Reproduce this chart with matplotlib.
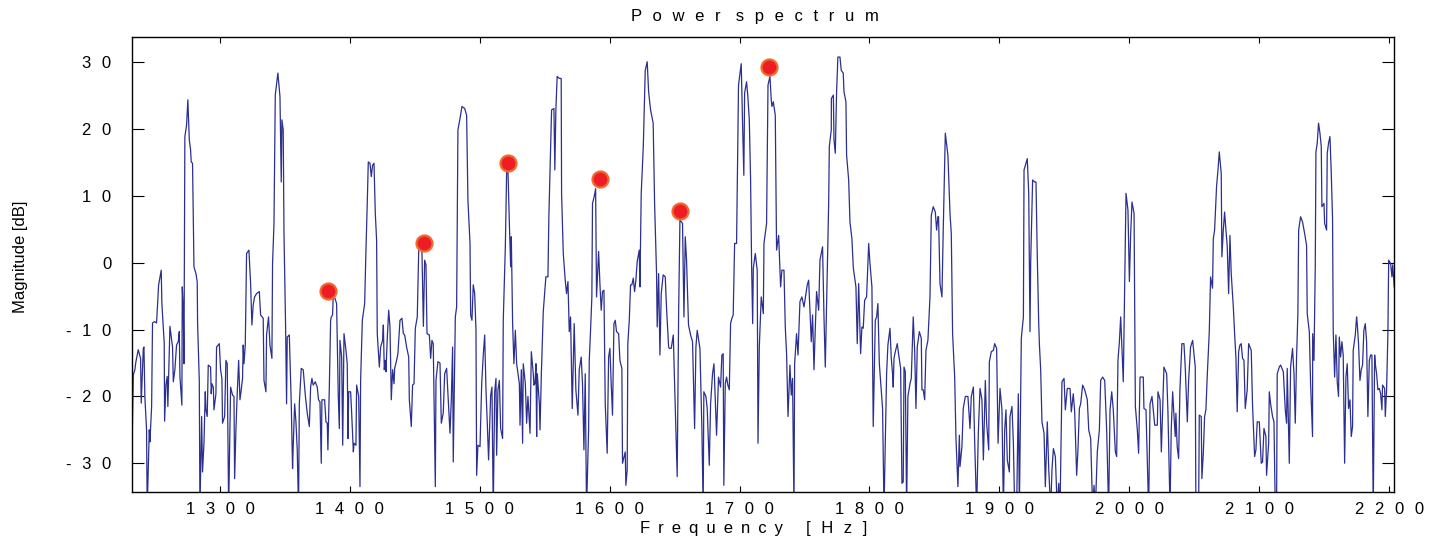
import numpy as np
import matplotlib
matplotlib.use("Agg")
import matplotlib.pyplot as plt

plt.rcParams['font.family'] = ['Liberation Sans', 'DejaVu Sans']

# ---- spectrum trace (Hz, dB); -37 = below the axis ----
freq_1 = [1232.5,1233.3,1234.5,1235.3,1237.1,1238.9,1239.4,1241.0,1241.5,1242.2,1243.5,1244.0,1245.6,1246.1,1247.4,
          1248.1,1249.7,1251.2,1252.8,1254.8,1255.3,1257.1,1257.4,1258.4,1259.4,1259.9,1261.5,1263.5,1264.1,1265.3,
          1266.6,1267.9,1268.7,1269.2,1270.7,1271.0,1271.8,1272.3,1273.0,1274.3,1275.3,1276.4,1277.4,1277.9,1278.9,
          1280.0,1281.5,1282.5,1282.8,1284.1,1284.6,1285.9,1286.6,1287.7,1288.7,1289.2,1290.2,1291.0,1292.8,1293.3,
          1293.8,1294.9,1295.4,1296.9,1297.4,1299.5,1300.5,1301.5,1302.0,1303.6,1304.6,1305.6,1306.7,1308.2,1309.7,
          1310.8,1311.3,1312.3,1313.3,1314.4,1315.4,1316.4,1317.4,1317.9,1318.5,1319.5,1320.0,1320.5,1322.3,1323.6,
          1324.6,1325.6,1326.7,1328.2,1330.3,1331.3,1333.3,1333.9,1335.4,1335.9,1337.4,1338.5,1340.0,1340.5,1341.6,
          1342.6,1343.6,1344.6,1346.2,1347.2,1347.7,1348.7,1349.3,1350.5,1351.3,1351.8,1353.4,1353.9,1354.9,1355.9,
          1356.4,1357.5,1358.5,1359.5,1360.5,1361.1,1362.6,1364.1,1365.7,1367.2,1368.8,1369.8,1370.8,1371.8,1373.4,
          1374.9,1375.9,1377.0,1378.0,1378.5,1380.6,1381.6,1382.6,1383.1,1384.2,1385.2,1385.7,1386.7,1387.2]
db_1 = [-25.8,-16.8,-16.0,-14.8,-13.0,-14.3,-21.0,-12.8,-12.6,-20.0,-25.0,-37,-25.0,-26.8,-21.5,
        -9.0,-8.8,-9.0,-3.3,-1.1,-6.1,-12.0,-23.7,-18.3,-17.0,-21.5,-9.5,-12.6,-17.8,-16.0,
        -12.3,-11.8,-10.3,-17.0,-21.3,-3.6,-7.1,-15.1,18.9,20.6,24.4,18.4,16.9,15.1,14.9,
        -0.6,-1.6,-2.8,-9.1,-17.6,-37,-23.0,-31.3,-27.0,-19.3,-22.0,-23.0,-15.3,-15.6,-19.6,
        -18.1,-18.6,-22.0,-19.6,-12.6,-12.1,-16.0,-17.3,-24.0,-23.0,-14.6,-15.1,-37,-18.6,-19.8,
        -20.0,-32.3,-25.0,-19.6,-14.6,-20.5,-19.0,-17.3,-12.3,-15.1,-12.3,-5.8,1.4,1.9,-3.1,
        -9.3,-6.3,-5.1,-4.6,-4.3,-7.8,-8.3,-17.6,-19.3,-10.8,-8.1,-12.3,-14.3,-0.1,5.9,
        25.1,26.8,28.4,24.9,12.1,21.4,19.9,4.4,-9.1,-21.1,-11.1,-10.8,-14.3,-21.1,-30.8,
        -27.5,-21.1,-23.8,-28.0,-37,-21.1,-15.8,-16.0,-19.8,-22.5,-24.5,-18.6,-17.3,-18.3,-17.8,
        -18.6,-20.5,-20.8,-30.0,-20.5,-20.5,-23.8,-24.0,-28.0,-18.6,-8.6,-8.1,-7.8,-5.1]

freq_2 = [1388.5,1389.8,1391.1,1391.9,1392.4,1393.7,1394.5,1395.5,1397.0,1398.0,1398.6,1399.1,1400.6,1401.4,1402.7,
          1403.2,1404.7,1405.2,1406.8,1407.8,1408.3,1409.6,1411.4,1412.4,1413.4,1414.2,1415.5,1416.5,1417.5,1418.6,
          1419.6,1420.6,1421.1,1422.7,1423.7,1425.2,1425.8,1426.5,1427.3,1427.8,1428.8,1429.9,1430.9,1431.9,1432.9,
          1434.0,1434.5,1436.0,1437.0,1438.6,1440.1,1441.2,1442.2,1443.7,1445.3,1445.8,1447.3,1448.3,1449.4,1450.4,
          1451.9,1453.0,1454.0,1455.5,1456.6,1457.6,1458.6,1459.4,1461.2,1462.2,1463.2,1464.2,1465.8,1466.3,1467.8,
          1469.4,1470.4,1471.9,1473.0,1474.5,1476.1,1477.1,1478.1,1479.1,1479.6,1481.2,1482.2,1483.2,1484.8,1486.3,
          1488.4,1489.9,1490.9,1492.5,1493.0,1494.0,1495.0,1496.1,1497.1,1497.6,1498.6,1500.2,1501.5,1502.7,1503.8,
          1504.8,1505.8,1506.8,1508.4,1509.4,1510.4,1511.5,1512.5,1513.0,1514.0,1515.1,1516.1,1517.6,1518.1,1519.7,
          1520.7,1521.7,1522.8,1523.8,1524.3,1525.3,1526.3,1527.4,1528.4,1530.5,1531.0,1532.0,1533.0,1533.5,1535.1,
          1536.1,1537.1,1538.7,1539.7,1541.2,1541.7,1542.5,1543.3,1543.8,1544.3,1545.9,1546.4,1547.4]
db_2 = [-5.3,-6.1,-20.0,-24.8,-11.6,-14.1,-27.3,-10.6,-13.1,-15.1,-26.3,-19.3,-19.3,-22.5,-28.3,
        -27.0,-27.3,-18.3,-20.0,-33.5,-17.6,-8.6,-6.1,1.9,8.9,15.1,14.9,12.9,14.6,14.9,
        7.4,3.4,-10.6,-15.6,-12.6,-11.6,-9.3,-16.0,-14.6,-16.3,-11.3,-7.1,-9.6,-20.5,-16.0,
        -18.1,-15.8,-14.6,-13.6,-8.6,-8.3,-10.6,-10.8,-12.6,-14.1,-20.5,-24.5,-18.3,-18.1,-9.8,
        -8.1,1.7,2.4,1.7,-9.5,0.4,-0.3,-10.6,-10.8,-14.3,-11.6,-12.1,-33.5,-17.6,-14.8,
        -15.0,-24.0,-22.5,-16.6,-15.8,-21.8,-25.5,-20.5,-12.6,-29.8,-8.1,-6.6,19.9,21.6,23.4,
        23.1,22.1,9.4,2.9,-7.8,-8.6,-3.3,-4.6,-10.1,-31.8,-27.3,-27.5,-18.1,-13.8,-10.8,
        -19.0,-24.0,-29.5,-19.8,-18.6,-37,-19.3,-17.3,-28.8,-19.0,-17.6,-24.8,-26.3,-8.6,2.4,
        13.6,13.9,5.9,-0.6,3.9,-9.1,-15.1,-10.1,-15.1,-18.1,-24.3,-16.0,-27.0,-15.1,-18.1,
        -24.0,-20.0,-25.5,-13.3,-16.6,-18.3,-18.1,-15.1,-26.0,-16.6,-21.1,-25.0,-16.8]

freq_3 = [1548.9,1550.1,1550.9,1552.5,1553.2,1555.3,1557.1,1557.8,1558.6,1559.6,1561.2,1562.7,1563.0,1564.3,1565.8,
          1566.8,1567.9,1568.9,1569.9,1571.2,1572.7,1574.0,1575.6,1576.6,1578.1,1579.1,1580.2,1581.2,1582.2,1583.8,
          1584.3,1585.3,1586.3,1586.8,1588.1,1589.2,1589.9,1591.5,1592.5,1593.5,1594.5,1595.6,1596.6,1598.1,1599.2,
          1600.2,1601.2,1602.2,1603.3,1604.3,1605.3,1606.9,1607.9,1609.4,1609.9,1612.0,1612.5,1613.5,1614.0,1615.1,
          1616.1,1617.1,1618.2,1619.2,1620.2,1621.2,1622.8,1623.3,1624.3,1625.9,1627.4,1628.9,1630.0,1631.5,1633.5,
          1634.6,1636.1,1636.6,1637.7,1638.7,1639.7,1641.2,1642.8,1643.8,1645.4,1645.9,1647.4,1649.0,1650.0,1652.0,
          1653.1,1654.1,1656.1,1657.2,1658.2,1659.2,1660.7,1662.3,1663.8,1665.4,1666.4,1667.4,1669.5,1671.0,1672.0,
          1672.5,1674.1,1675.1,1676.7,1677.7,1679.2,1680.3,1682.3,1683.8,1685.4,1686.4,1687.4,1687.9,1689.0,1690.0,
          1691.0,1692.1,1693.1,1694.1,1695.1,1696.2,1697.7,1699.2,1700.3,1701.3,1702.3,1703.3,1703.9,1705.4,1706.4,
          1707.5]
db_3 = [-7.3,-4.1,-2.1,-2.1,6.9,22.9,23.1,13.9,22.9,27.9,27.6,27.6,10.4,1.4,-2.6,
        -4.6,-2.8,-10.3,-8.1,-21.8,-9.1,-19.0,-22.8,-16.0,-14.1,-18.1,-28.0,-16.6,-37,-25.0,
        -14.6,-10.1,-5.1,8.9,9.9,11.1,-5.1,1.7,-3.1,-7.1,-4.3,-4.1,-21.1,-28.5,-14.1,
        -12.8,-18.1,-22.8,-9.1,-8.6,-10.3,-10.6,-14.6,-15.8,-30.0,-28.3,-33.3,-31.0,-12.1,-8.6,
        -3.3,-3.3,-2.3,-4.3,-2.6,0.2,1.9,-3.6,10.4,17.4,28.8,30.1,25.6,22.9,20.9,
        8.9,-1.6,-9.6,-1.6,-13.8,-4.6,-1.8,-2.1,-6.8,-12.6,-12.8,-12.8,-10.8,-18.1,-32.0,
        -7.6,6.4,5.9,-8.1,3.9,0.4,-9.3,-10.8,-11.8,-24.8,-12.6,-10.1,-12.8,-24.8,-37,
        -19.3,-20.0,-21.8,-30.3,-21.1,-16.6,-15.1,-25.8,-17.1,-18.6,-13.8,-13.6,-33.3,-18.1,-17.1,
        -18.3,-19.0,-9.1,-8.3,-7.8,2.9,2.9,26.6,28.3,29.8,20.9,13.1,25.4,27.1,24.9,
        21.4]

freq_4 = [1708.5,1709.3,1710.1,1710.6,1712.1,1713.6,1714.2,1715.2,1716.7,1718.3,1718.8,1720.8,1721.9,1723.4,1724.4,
          1724.9,1726.0,1727.5,1728.5,1730.1,1731.6,1732.6,1734.2,1735.2,1736.2,1737.3,1738.3,1738.8,1739.8,1740.8,
          1741.9,1742.4,1743.9,1745.0,1746.5,1748.0,1749.6,1751.1,1752.1,1753.2,1754.2,1755.2,1756.2,1757.3,1758.3,
          1759.3,1760.9,1761.9,1763.9,1765.0,1766.0,1767.5,1768.6,1769.1,1770.6,1770.7,1772.2,1772.7,1773.7,1774.7,
          1775.7,1777.3,1778.3,1779.8,1780.4,1781.9,1782.4,1784.0,1785.0,1786.5,1787.6,1789.6,1790.6,1791.7,1793.2,
          1794.2,1795.2,1796.3,1797.8,1799.4,1800.4,1801.9,1802.9,1804.5,1805.5,1806.5,1807.6,1809.1,1810.1,1811.2,
          1813.2,1814.2,1815.8,1816.8,1817.8,1818.3,1818.9,1819.9,1821.4,1822.4,1824.0,1825.0,1826.0,1826.6,1827.6,
          1828.6,1829.6,1831.2,1832.2,1833.7,1834.8,1835.8,1836.8,1838.4,1839.9,1840.4,1841.4,1842.5,1843.5,1845.0,
          1846.6,1847.6,1849.1,1850.7,1851.7,1852.7,1853.2,1854.3,1855.8,1856.8,1858.4,1860.4,1862.0,1863.0,1864.0,
          1865.6,1866.6,1868.1,1869.2,1869.7,1871.2,1872.2,1873.8,1875.8]
db_4 = [12.4,-0.6,-9.1,-0.8,1.4,-1.1,-27.0,-12.6,-5.1,-7.6,2.9,5.9,26.6,27.9,24.4,
        23.4,24.1,22.1,1.9,4.1,-3.6,-1.1,-1.1,-9.6,-13.6,-23.0,-17.6,-15.3,-19.8,-17.3,
        -37,-15.1,-10.6,-13.8,-5.8,-5.1,-6.6,-4.6,-3.3,-2.6,-7.1,-11.8,-7.8,-16.0,-9.8,
        -4.3,-7.1,0.4,2.4,-8.1,-15.6,-1.1,8.9,17.4,19.9,24.6,25.1,18.4,16.4,25.6,
        30.8,30.8,28.8,28.4,25.6,24.1,16.1,12.4,6.1,3.6,-0.8,-3.6,-12.1,-3.1,-13.6,
        -9.6,-9.8,-5.6,-5.1,2.9,-0.1,-3.6,-24.5,-8.6,-8.1,-6.1,-15.1,-19.0,-21.8,-37,
        -16.6,-12.3,-9.8,-14.3,-16.6,-18.6,-14.3,-13.3,-12.1,-13.6,-15.8,-33.0,-32.8,-15.6,-16.3,
        -37,-20.0,-18.1,-17.3,-8.1,-13.1,-21.8,-12.6,-10.3,-11.3,-19.0,-19.0,-20.5,-13.1,-11.6,
        -5.1,7.1,8.4,7.6,4.9,6.9,6.9,-3.1,-5.1,4.9,19.4,16.1,7.4,4.4,-10.6,
        -17.1,-26.3,-33.5,-25.8,-30.5,-27.5,-21.8,-20.0,-20.0]

freq_5 = [1877.4,1878.4,1880.0,1881.0,1882.5,1883.8,1885.1,1886.6,1887.7,1889.2,1890.2,1891.8,1892.3,1893.8,1895.4,
          1896.4,1897.9,1899.0,1900.5,1902.0,1903.1,1904.1,1905.1,1906.1,1907.7,1908.2,1909.7,1910.8,1911.8,1913.3,
          1914.6,1915.4,1916.9,1918.5,1919.0,1920.0,1921.5,1922.6,1923.6,1924.1,1925.6,1927.2,1928.2,1929.2,1930.3,
          1930.8,1931.8,1932.8,1934.4,1935.4,1936.9,1938.0,1939.5,1940.5,1941.6,1943.1,1944.6,1945.7,1946.7,1948.2,
          1949.8,1950.8,1952.3,1954.4,1955.4,1956.9,1958.0,1959.5,1960.5,1961.6,1962.6,1964.1,1965.7,1967.7,1968.8,
          1970.3,1971.8,1972.9,1973.9,1975.4,1977.0,1978.0,1979.5,1981.1,1982.6,1984.1,1985.2,1986.5,1987.7,1989.3,
          1990.3,1991.3,1992.4,1993.4,1995.4,1996.5,1997.5,1999.0,2000.1,2001.1,2002.1,2003.7,2004.7,2006.2,2007.2,
          2008.3,2010.8,2011.3,2012.9,2013.4,2014.9,2016.0,2017.5,2018.5,2019.6,2021.6,2022.1,2023.7,2024.7,2026.7,
          2028.8,2029.8,2031.4]
db_5 = [-24.8,-20.0,-18.6,-26.8,-37,-25.5,-18.8,-20.5,-29.5,-17.6,-24.0,-28.0,-14.8,-13.3,-13.1,
        -12.1,-12.8,-27.0,-18.8,-22.0,-37,-25.0,-22.0,-29.5,-31.3,-23.0,-21.5,-27.0,-37,-37,
        -19.6,-37,-11.3,-8.1,13.9,14.6,15.6,10.4,-10.3,-0.1,12.4,12.1,12.1,0.9,-9.1,
        -12.1,-16.0,-23.8,-25.5,-33.5,-23.8,-30.8,-37,-31.0,-27.8,-29.0,-37,-33.0,-37,-17.8,
        -17.3,-22.0,-18.8,-18.8,-22.3,-19.6,-22.3,-31.8,-28.0,-21.8,-21.1,-18.3,-19.0,-20.5,-25.0,
        -26.3,-37,-33.3,-37,-28.3,-25.0,-17.6,-17.1,-17.6,-25.0,-37,-22.0,-19.3,-22.0,-28.3,
        -29.0,-14.6,-11.8,-8.1,-17.8,-3.1,10.4,7.9,-2.8,4.4,9.1,7.4,-21.5,-25.0,-28.5,
        -17.1,-17.1,-21.8,-22.0,-26.0,-37,-21.1,-20.0,-22.0,-24.3,-24.3,-19.3,-20.5,-28.3,-15.6,
        -16.6,-22.5,-37]

freq_6 = [2032.3,2033.4,2034.4,2035.4,2035.9,2036.9,2038.0,2039.0,2040.5,2042.1,2043.1,2044.7,2045.7,2047.2,2048.8,
          2049.8,2050.8,2051.3,2053.4,2053.9,2055.4,2055.9,2057.0,2058.0,2059.0,2060.0,2061.6,2062.6,2064.1,2064.7,
          2065.7,2067.2,2068.3,2069.3,2070.8,2071.3,2072.4,2073.4,2074.4,2075.4,2076.5,2077.5,2078.5,2080.1,2081.1,
          2082.1,2083.1,2084.2,2085.2,2086.2,2087.2,2088.3,2089.3,2090.8,2091.9,2093.9,2094.9,2096.5,2097.5,2098.5,
          2100.1,2101.6,2102.6,2103.7,2105.2,2105.7,2107.3,2107.8,2108.8,2110.3,2111.4,2112.4,2113.4,2113.9,2115.5,
          2116.5,2118.6,2120.1,2121.1,2121.6,2123.2,2124.2,2125.7,2126.8,2127.8,2128.8,2129.8,2130.4,2131.9,2133.4,
          2135.0,2136.5,2137.0,2138.6,2139.6,2141.1,2141.2,2142.2,2143.2,2143.7,2144.7,2145.7,2146.8,2147.8,2148.3,
          2149.9,2150.4,2151.9,2152.4,2153.4,2154.5,2155.5,2156.5,2157.0,2158.1,2159.1,2160.1,2161.1,2161.7,2162.7,
          2163.7,2164.7,2165.8,2166.8,2167.8,2168.8,2169.9,2170.9,2171.9,2172.4,2174.0,2175.0,2175.5,2176.5,2177.6,
          2178.6,2179.6,2180.6,2181.7,2182.7,2183.7,2184.8,2185.8,2186.8,2187.8,2188.9,2189.4,2190.4,2191.4,2192.5,
          2193.5,2194.5,2195.0,2196.6,2197.1,2198.1,2199.1,2199.7,2201.2,2202.2,2202.8,2204.0]
db_6 = [-25.0,-19.3,-22.8,-26.0,-22.5,-27.5,-29.3,-19.0,-12.1,-12.1,-15.6,-23.8,-17.6,-12.6,-11.6,
        -13.6,-15.6,-37,-37,-22.8,-23.0,-32.3,-28.5,-23.0,-22.0,-17.1,-10.3,-2.1,-3.8,3.6,
        4.9,11.4,13.9,16.6,13.4,0.9,4.9,7.6,4.9,2.6,-4.6,4.1,-1.6,-6.6,-10.6,
        -14.1,-22.3,-13.3,-12.3,-12.1,-14.3,-14.6,-21.8,-19.0,-12.1,-13.1,-21.3,-29.0,-28.0,-23.8,
        -23.8,-30.0,-29.8,-24.8,-26.0,-31.8,-27.0,-19.3,-21.1,-23.0,-23.8,-37,-37,-16.6,-15.6,
        -15.3,-16.3,-22.0,-24.0,-15.8,-30.0,-15.6,-12.8,-16.6,-24.0,-14.1,-7.6,4.9,6.9,6.1,
        4.4,2.6,-7.6,-10.3,-18.1,-26.0,-10.6,-14.6,-0.3,16.6,17.9,20.9,19.4,17.4,8.4,
        8.9,5.9,4.9,16.4,17.9,18.9,13.4,6.6,-10.1,-17.1,-10.8,-17.8,-20.0,-11.1,-14.1,
        -11.8,-13.8,-30.0,-17.1,-15.1,-21.8,-20.5,-26.0,-24.5,-13.1,-10.8,-8.1,-9.1,-12.1,-17.6,
        -16.0,-15.3,-10.1,-9.1,-11.8,-23.0,-14.6,-13.8,-13.8,-37,-13.8,-15.1,-16.6,-19.0,-18.8,
        -19.6,-22.0,-18.3,-18.8,-23.0,-19.0,-10.6,0.4,-0.1,-2.1,-0.3,-3.6]

# ---- detected peaks (red markers) ----
peak_freq = [1382.9, 1457.0, 1521.5, 1592.5, 1654.1, 1722.6]
peak_db = [-4.2, 3.0, 15.0, 12.6, 7.8, 29.3]

# ---- axis ticks ----
x_ticks = [1300, 1400, 1500, 1600, 1700, 1800, 1900, 2000, 2100, 2200]
y_ticks = [-30, -20, -10, 0, 10, 20, 30]


def spaced(s, sep="  \u200a"):
    return sep.join(list(s))


freq = np.concatenate([freq_1, freq_2, freq_3, freq_4, freq_5, freq_6])
db = np.concatenate([db_1, db_2, db_3, db_4, db_5, db_6])

W, H = 1437, 543
fig = plt.figure(figsize=(W / 100, H / 100), dpi=100)
ax = fig.add_axes([132 / W, 1 - 492 / H, (1394 - 132) / W, (492 - 37) / H])

ax.plot(freq, db, color="#2b2f8f", linewidth=0.9, zorder=2)
ax.plot(peak_freq, peak_db, linestyle="none", marker="o", markersize=11.5,
        markerfacecolor="#ee1c25", markeredgecolor="#f26a2a", markeredgewidth=1.6, zorder=3)

ax.set_xlim(1232.3, 2203.8)
ax.set_ylim(-34.3, 33.8)

ax.set_xticks(x_ticks)
ax.set_xticklabels([spaced(str(v)) for v in x_ticks], fontsize=12)
ax.set_yticks(y_ticks)
ax.set_yticklabels([spaced(str(v)) for v in y_ticks], fontsize=12)

ax.tick_params(axis="x", direction="in", length=4.3, width=0.8, top=True, bottom=True, pad=7, colors="black")
ax.tick_params(axis="y", direction="in", length=8.6, width=0.8, left=True, right=True, pad=15, colors="black")
for sp in ax.spines.values():
    sp.set_linewidth(1.0)
    sp.set_color("black")

fig.text(754.5 / W, 1 - 17 / H, spaced("Power") + "   \u200a" + spaced("spectrum"),
         fontsize=12, ha="center", va="center")
fig.text(754 / W, 1 - 529 / H, spaced("Frequency", " \u2009") + "     " + spaced("[Hz]"),
         fontsize=12, ha="center", va="center")
fig.text(21 / W, 1 - 257 / H, "Magnitude [dB]", rotation=90, fontsize=12,
         ha="center", va="center")

fig.savefig("out.png", dpi=100)
